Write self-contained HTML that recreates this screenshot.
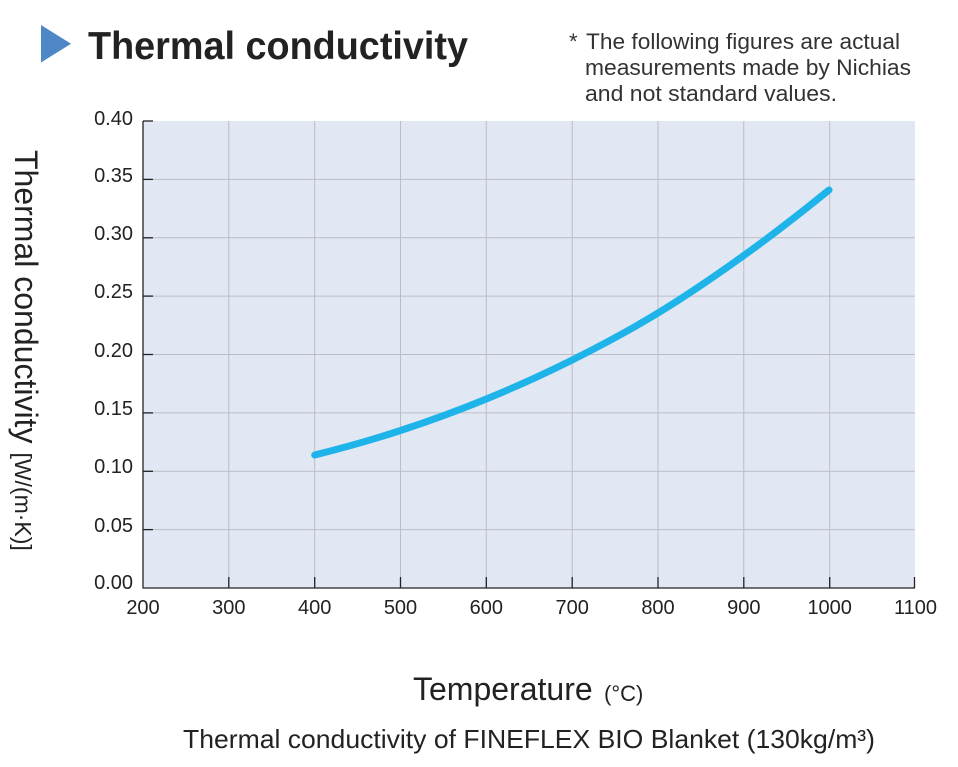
<!DOCTYPE html>
<html>
<head>
<meta charset="utf-8">
<style>
  html, body { margin: 0; padding: 0; background: #ffffff; }
  body { width: 958px; height: 767px; overflow: hidden; }
  svg { display: block; }
  text { font-family: "Liberation Sans", Arial, sans-serif; }
</style>
</head>
<body>
<svg width="958" height="767" viewBox="0 0 958 767" xmlns="http://www.w3.org/2000/svg">
  <!-- Title -->
  <polygon points="41,25 71,43.7 41,62.5" fill="#4f86c6"/>
  <text x="88" y="59" font-size="39" font-weight="bold" fill="#222" textLength="380" lengthAdjust="spacingAndGlyphs">Thermal conductivity</text>

  <!-- Note -->
  <g font-size="22" fill="#333">
    <text x="569" y="49">*</text>
    <text x="586" y="49" textLength="314" lengthAdjust="spacingAndGlyphs">The following figures are actual</text>
    <text x="585" y="75" textLength="326" lengthAdjust="spacingAndGlyphs">measurements made by Nichias</text>
    <text x="585" y="101" textLength="252" lengthAdjust="spacingAndGlyphs">and not standard values.</text>
  </g>

  <!-- Plot background -->
  <rect x="143" y="121" width="772" height="467" fill="#e1e8f4"/>

  <!-- Grid -->
  <g stroke="#bcbcc4" stroke-width="1">
    <line x1="228.8" y1="121" x2="228.8" y2="588"/>
    <line x1="314.7" y1="121" x2="314.7" y2="588"/>
    <line x1="400.5" y1="121" x2="400.5" y2="588"/>
    <line x1="486.3" y1="121" x2="486.3" y2="588"/>
    <line x1="572.2" y1="121" x2="572.2" y2="588"/>
    <line x1="658" y1="121" x2="658" y2="588"/>
    <line x1="743.8" y1="121" x2="743.8" y2="588"/>
    <line x1="829.7" y1="121" x2="829.7" y2="588"/>

    <line x1="143" y1="179.4" x2="915" y2="179.4"/>
    <line x1="143" y1="237.8" x2="915" y2="237.8"/>
    <line x1="143" y1="296.1" x2="915" y2="296.1"/>
    <line x1="143" y1="354.5" x2="915" y2="354.5"/>
    <line x1="143" y1="412.9" x2="915" y2="412.9"/>
    <line x1="143" y1="471.3" x2="915" y2="471.3"/>
    <line x1="143" y1="529.6" x2="915" y2="529.6"/>
  </g>

  <!-- Axes -->
  <g stroke="#222" stroke-width="1.3" fill="none">
    <line x1="143" y1="121" x2="143" y2="588.5"/>
    <line x1="142.5" y1="588" x2="915" y2="588"/>
    <!-- y ticks -->
    <line x1="143" y1="121" x2="153" y2="121"/>
    <line x1="143" y1="179.4" x2="153" y2="179.4"/>
    <line x1="143" y1="237.8" x2="153" y2="237.8"/>
    <line x1="143" y1="296.1" x2="153" y2="296.1"/>
    <line x1="143" y1="354.5" x2="153" y2="354.5"/>
    <line x1="143" y1="412.9" x2="153" y2="412.9"/>
    <line x1="143" y1="471.3" x2="153" y2="471.3"/>
    <line x1="143" y1="529.6" x2="153" y2="529.6"/>
    <!-- x ticks -->
    <line x1="228.8" y1="577" x2="228.8" y2="588"/>
    <line x1="314.7" y1="577" x2="314.7" y2="588"/>
    <line x1="400.5" y1="577" x2="400.5" y2="588"/>
    <line x1="486.3" y1="577" x2="486.3" y2="588"/>
    <line x1="572.2" y1="577" x2="572.2" y2="588"/>
    <line x1="658" y1="577" x2="658" y2="588"/>
    <line x1="743.8" y1="577" x2="743.8" y2="588"/>
    <line x1="829.7" y1="577" x2="829.7" y2="588"/>
    <line x1="914.5" y1="577" x2="914.5" y2="588"/>
  </g>

  <!-- Y tick labels -->
  <g font-size="20" fill="#222" text-anchor="end">
    <text x="133" y="125">0.40</text>
    <text x="133" y="182">0.35</text>
    <text x="133" y="240">0.30</text>
    <text x="133" y="298">0.25</text>
    <text x="133" y="357">0.20</text>
    <text x="133" y="415">0.15</text>
    <text x="133" y="473">0.10</text>
    <text x="133" y="532">0.05</text>
    <text x="133" y="589">0.00</text>
  </g>

  <!-- X tick labels -->
  <g font-size="20" fill="#222" text-anchor="middle">
    <text x="143" y="614">200</text>
    <text x="228.8" y="614">300</text>
    <text x="314.7" y="614">400</text>
    <text x="400.5" y="614">500</text>
    <text x="486.3" y="614">600</text>
    <text x="572.2" y="614">700</text>
    <text x="658" y="614">800</text>
    <text x="743.8" y="614">900</text>
    <text x="829.7" y="614">1000</text>
    <text x="915.5" y="614">1100</text>
  </g>

  <!-- Curve -->
  <path d="M314.7,455 C343.3,447.92 371.9,439.83 400.5,430.5 C429.1,421.17 457.7,410.75 486.3,399 C514.9,387.25 543.6,374.33 572.2,360 C600.8,345.67 629.4,330.42 658,313 C686.6,295.58 715.2,276 743.8,255.5 C772.4,235 800.4,213.25 829,190"
        fill="none" stroke="#1eb4e9" stroke-width="7" stroke-linecap="round" stroke-linejoin="round"/>

  <!-- Y axis label -->
  <text transform="translate(15,150) rotate(90)" font-size="32" fill="#222">Thermal conductivity<tspan font-size="23" dx="9">[W/(m·K)]</tspan></text>

  <!-- X axis label -->
  <text x="413" y="700" font-size="32" fill="#222">Temperature</text>
  <text x="604" y="701" font-size="22" fill="#222">(°C)</text>

  <!-- Caption -->
  <text x="183" y="748" font-size="26" fill="#222" textLength="692" lengthAdjust="spacingAndGlyphs">Thermal conductivity of FINEFLEX BIO Blanket (130kg/m³)</text>
</svg>
</body>
</html>
